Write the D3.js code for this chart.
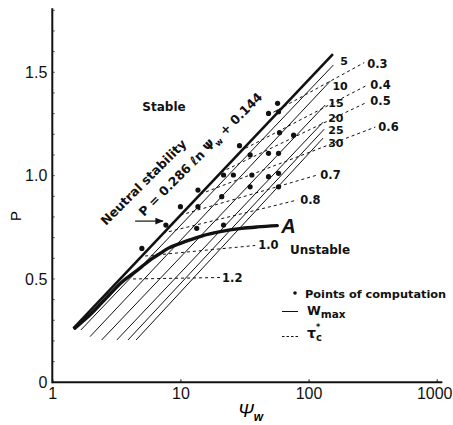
<!DOCTYPE html>
<html>
<head>
<meta charset="utf-8">
<script src="https://cdn.jsdelivr.net/npm/d3@7/dist/d3.min.js"></script>
<style>
  html, body { margin: 0; padding: 0; background: #fff; }
  svg { display: block; }
  .tick text { font-family: "Liberation Sans", Arial, sans-serif; font-size: 16px; fill: #111; }
  .note { font-family: "DejaVu Sans", "Liberation Sans", sans-serif; font-weight: bold; fill: #111; }
</style>
</head>
<body>
<svg id="chart" width="453" height="425"></svg>
<script>
// Axis ticks
const psiTicks = [1, 10, 100, 1000];
const pTicks = [0, 0.5, 1.0, 1.5];
const pTickText = ["0", "0.5", "1.0", "1.5"];

// Neutral stability line, P = 0.286 ln(psi_w) + 0.144 (end points)
const neutralLine = [[1.46, 0.261], [155, 1.588]];

// W_max contours (solid), end points [psi_w, P]
const wMaxLabels = ["5", "10", "15", "20", "25", "30"];
const wMaxLines = [
  [[1.67, 0.253], [156, 1.535]],
  [[1.97, 0.221], [148, 1.458]],
  [[2.43, 0.205], [135, 1.342]],
  [[3.19, 0.205], [130, 1.259]],
  [[3.90, 0.205], [132.6, 1.225]],
  [[4.51, 0.205], [130, 1.182]]
];

// tau_c* contours (dashed), end points [psi_w, P]
const tauLabels = ["0.3", "0.4", "0.5", "0.6", "0.7", "0.8", "1.0", "1.2"];
const tauLines = [
  [[48.4, 1.293], [272, 1.547]],
  [[29.3, 1.119], [287.5, 1.438]],
  [[20.8, 1.017], [287.5, 1.356]],
  [[14.3, 0.911], [332, 1.235]],
  [[10.0, 0.809], [117, 1.003]],
  [[7.32, 0.722], [81.6, 0.882]],
  [[5.3, 0.611], [38.3, 0.662]],
  [[4.27, 0.500], [20.4, 0.507]]
];

// Curve A
const curveA = [
  [1.5, 0.262], [2.0, 0.33], [2.8, 0.425], [3.5, 0.485], [4.3, 0.528], [5, 0.56],
  [6, 0.598], [7, 0.625], [8, 0.648], [10, 0.672], [12, 0.69], [15, 0.71],
  [20, 0.728], [30, 0.745], [40, 0.752], [57, 0.758]
];

// Points of computation
const points = [
  [5, 0.648], [7.7, 0.761], [10, 0.85], [13.7, 0.93], [13.7, 0.85], [13.4, 0.745],
  [21.7, 1.003], [21, 0.898], [21.7, 0.761], [25.9, 1.003], [28.9, 1.145],
  [35, 1.10], [36.1, 1.003], [35, 0.946], [48.7, 1.108], [48.7, 0.995],
  [48.7, 1.301], [57.3, 1.35], [58.3, 1.309], [59.3, 1.208], [58.3, 1.108],
  [58.3, 1.011], [58.3, 0.946], [76.4, 1.196]
];

// Arrow pointing at the neutral-stability point
const arrowFrom = [4.43, 0.78];
const arrowTo = [7.3, 0.78];

// ---- layout ----
const svg = d3.select("#chart");
const x = d3.scaleLog().domain([1, 1000]).range([52.3, 436.7]);
const y = d3.scaleLinear().domain([0, 1.5]).range([382.3, 72.3]);

const wLabelOffset = [[7, 0], [2, 9], [3, 2], [5, -0.5], [4, 5], [5, 9]];
const tauLabelOffset = [[3, 5], [3, 4], [3, 3], [3, 4], [3, 4], [3, 4], [3, 4], [2, 4]];

svg.append("defs").append("marker")
  .attr("id", "arrowhead").attr("viewBox", "0 0 10 10")
  .attr("refX", 9).attr("refY", 5).attr("markerWidth", 7).attr("markerHeight", 7)
  .attr("orient", "auto")
  .append("path").attr("d", "M0,1 L10,5 L0,9 Z").attr("fill", "#111");

// Axes
const xAxis = svg.append("g").attr("transform", `translate(0,${y(0)})`)
  .call(d3.axisBottom(x).tickValues(psiTicks).tickFormat(d3.format("d"))
    .tickSizeInner(-3).tickSizeOuter(0).tickPadding(3));
xAxis.select(".domain").remove();
xAxis.selectAll(".tick line").attr("stroke", "#111");
xAxis.selectAll(".tick text").attr("dy", "0.85em")
  .attr("dx", d => d === 1000 ? -2.5 : 0);

const yAxis = svg.append("g").attr("transform", `translate(${x(1)},0)`)
  .call(d3.axisLeft(y).tickValues(pTicks).tickFormat((d, i) => pTickText[i])
    .tickSize(0).tickPadding(5));
yAxis.select(".domain").remove();

// minor ticks on P axis
svg.append("g").selectAll("line").data(d3.range(1, 19).map(i => i / 10)).join("line")
  .attr("x1", x(1)).attr("x2", x(1) + 2.5)
  .attr("y1", d => y(d)).attr("y2", d => y(d))
  .attr("stroke", "#333").attr("stroke-width", 0.8);

svg.append("line").attr("x1", x(1)).attr("x2", x(1107)).attr("y1", y(0)).attr("y2", y(0))
  .attr("stroke", "#111").attr("stroke-width", 2);
svg.append("line").attr("x1", x(1)).attr("x2", x(1)).attr("y1", y(0) + 1).attr("y2", y(1.81))
  .attr("stroke", "#111").attr("stroke-width", 2);

// Axis titles
svg.append("text").attr("transform", `translate(21,216) rotate(-90)`)
  .attr("text-anchor", "middle")
  .style("font-family", "Liberation Sans, Arial, sans-serif").style("font-size", "15px")
  .text("P");
const xt = svg.append("text").attr("x", 238).attr("y", 417)
  .style("font-family", "Liberation Sans, Arial, sans-serif").style("font-size", "19px")
  .style("font-style", "italic");
xt.append("tspan").text("Ψ");
xt.append("tspan").attr("dy", 4).style("font-size", "12px").style("font-weight", "bold").text("w");

const linePath = d => `M${x(d[0][0])},${y(d[0][1])}L${x(d[1][0])},${y(d[1][1])}`;

// W_max contours
svg.append("g").selectAll("path").data(wMaxLines).join("path")
  .attr("d", linePath).attr("fill", "none").attr("stroke", "#111").attr("stroke-width", 1);

svg.append("g").selectAll("text").data(wMaxLines).join("text")
  .attr("class", "note").style("font-size", "11px")
  .attr("x", (d, i) => x(d[1][0]) + wLabelOffset[i][0])
  .attr("y", (d, i) => y(d[1][1]) + wLabelOffset[i][1])
  .text((d, i) => wMaxLabels[i]);

// tau_c* contours
svg.append("g").selectAll("path").data(tauLines).join("path")
  .attr("d", linePath).attr("fill", "none").attr("stroke", "#111")
  .attr("stroke-width", 1).attr("stroke-dasharray", "3,3");

svg.append("g").selectAll("text").data(tauLines).join("text")
  .attr("class", "note").style("font-size", "11.5px")
  .attr("x", (d, i) => x(d[1][0]) + tauLabelOffset[i][0])
  .attr("y", (d, i) => y(d[1][1]) + tauLabelOffset[i][1])
  .text((d, i) => tauLabels[i]);

// Neutral stability line
svg.append("path").attr("d", linePath(neutralLine))
  .attr("fill", "none").attr("stroke", "#111").attr("stroke-width", 2.6);

// Curve A
svg.append("path").datum(curveA)
  .attr("d", d3.line().x(d => x(d[0])).y(d => y(d[1])).curve(d3.curveMonotoneX))
  .attr("fill", "none").attr("stroke", "#111").attr("stroke-width", 3.4)
  .attr("stroke-linecap", "round");
svg.append("text").attr("x", x(57) + 4).attr("y", y(0.758) + 7)
  .style("font-family", "Liberation Sans, Arial, sans-serif").style("font-size", "20px")
  .style("font-style", "italic").style("font-weight", "bold").attr("fill", "#111").text("A");

// Points of computation
svg.append("g").selectAll("circle").data(points).join("circle")
  .attr("cx", d => x(d[0])).attr("cy", d => y(d[1])).attr("r", 2.6).attr("fill", "#111");

// Arrow
svg.append("line")
  .attr("x1", x(arrowFrom[0])).attr("y1", y(arrowFrom[1]))
  .attr("x2", x(arrowTo[0])).attr("y2", y(arrowTo[1]))
  .attr("stroke", "#111").attr("stroke-width", 1.2).attr("marker-end", "url(#arrowhead)");

// Region notes
svg.append("text").attr("class", "note").style("font-size", "12px")
  .attr("x", 164).attr("y", 111).attr("text-anchor", "middle").text("Stable");
svg.append("text").attr("class", "note").style("font-size", "12px")
  .attr("x", 290).attr("y", 254).text("Unstable");

svg.append("text").attr("class", "note").style("font-size", "12.5px")
  .attr("transform", "translate(106,226) rotate(-45)")
  .text("Neutral  stability");
const eq = svg.append("text").attr("class", "note").style("font-size", "12.5px")
  .attr("transform", "translate(144,217) rotate(-45)");
eq.append("tspan").text("P = 0.286 ℓn Ψ");
eq.append("tspan").attr("dy", 3).style("font-size", "8.5px").text("w");
eq.append("tspan").attr("dy", -3).text(" + 0.144");

// Legend
svg.append("circle").attr("cx", 295).attr("cy", 293).attr("r", 1.8).attr("fill", "#111");
svg.append("text").attr("class", "note").style("font-size", "11.3px")
  .attr("x", 305).attr("y", 297.5).text("Points of computation");
svg.append("line").attr("x1", 282).attr("x2", 298).attr("y1", 311.5).attr("y2", 311.5)
  .attr("stroke", "#111").attr("stroke-width", 1);
const lw = svg.append("text").attr("class", "note").style("font-size", "12.5px")
  .attr("x", 307).attr("y", 315);
lw.append("tspan").text("W");
lw.append("tspan").attr("dy", 3).style("font-size", "10.5px").text("max");
svg.append("line").attr("x1", 282).attr("x2", 298).attr("y1", 336.5).attr("y2", 336.5)
  .attr("stroke", "#111").attr("stroke-width", 1).attr("stroke-dasharray", "2.5,2");
const lt = svg.append("text").attr("class", "note").style("font-size", "14px")
  .attr("x", 307).attr("y", 338);
lt.append("tspan").text("τ");
lt.append("tspan").attr("dy", 3).style("font-size", "10px").text("c");
lt.append("tspan").attr("dx", -6).attr("dy", -11).style("font-size", "8px").text("*");
</script>
</body>
</html>
